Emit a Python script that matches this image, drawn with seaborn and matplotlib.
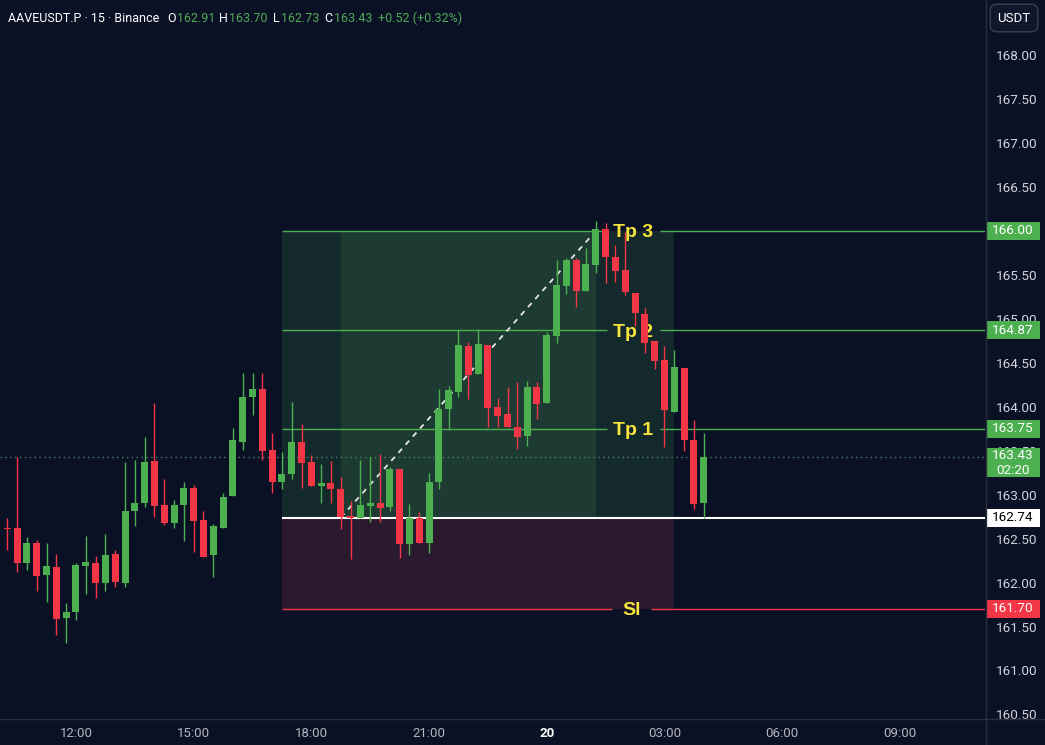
import matplotlib
matplotlib.use("Agg")
import numpy as np
import pandas as pd
import seaborn as sns
import matplotlib.pyplot as plt
from matplotlib.patches import Rectangle
from matplotlib.lines import Line2D
from matplotlib.transforms import blended_transform_factory

# ---------------- data ----------------
# candle times in hours relative to 12:00 (15-minute candles, 10:15 -> 04:00 next day)
hours = list(np.arange(72) * 0.25 - 1.75)

opens = [162.62, 162.62, 162.22, 162.45, 162.09, 162.18, 161.60, 161.67, 162.19, 162.22,
         161.99, 162.33, 162.00, 162.81, 162.90, 163.38, 162.88, 162.68, 162.88, 163.08,
         162.71, 162.31, 162.62, 162.98, 163.60, 164.11, 164.20, 163.51, 163.14, 163.23,
         163.60, 163.37, 163.10, 163.13, 163.06, 162.75, 162.73, 162.87, 162.90, 162.86,
         163.29, 162.44, 162.73, 162.45, 163.14, 163.98, 164.17, 164.69, 164.37, 164.70,
         164.00, 163.92, 163.77, 163.67, 164.23, 164.04, 164.81, 165.37, 165.67, 165.32,
         165.61, 166.02, 165.70, 165.56, 165.30, 165.06, 164.75, 164.53, 163.94, 164.44,
         163.62, 162.91]
closes = [162.61, 162.22, 162.45, 162.08, 162.19, 161.59, 161.66, 162.20, 162.23, 162.00,
          162.31, 162.01, 162.81, 162.91, 163.37, 162.87, 162.68, 162.88, 163.08, 162.70,
          162.29, 162.64, 162.97, 163.62, 164.11, 164.20, 163.50, 163.15, 163.24, 163.60,
          163.36, 163.10, 163.13, 163.06, 162.75, 162.74, 162.88, 162.90, 162.85, 163.29,
          162.44, 162.73, 162.45, 163.14, 163.98, 164.19, 164.70, 164.36, 164.71, 163.99,
          163.90, 163.77, 163.66, 164.23, 164.03, 164.82, 165.39, 165.67, 165.32, 165.63,
          166.02, 165.70, 165.55, 165.31, 165.07, 164.73, 164.52, 163.96, 164.45, 163.62,
          162.89, 163.43]
highs = [162.73, 163.43, 162.52, 162.48, 162.45, 162.33, 161.77, 162.22, 162.53, 162.30,
         162.55, 162.37, 163.37, 163.39, 163.66, 164.04, 163.18, 162.94, 163.14, 163.11,
         162.81, 162.67, 163.02, 163.76, 164.39, 164.39, 164.39, 163.70, 163.48, 164.05,
         163.80, 163.45, 163.35, 163.38, 163.20, 162.93, 163.39, 163.43, 163.46, 163.32,
         163.29, 162.89, 162.80, 163.25, 164.20, 164.24, 164.87, 164.74, 164.89, 164.70,
         164.10, 164.23, 164.28, 164.29, 164.28, 164.85, 165.67, 165.69, 165.69, 165.81,
         166.11, 166.09, 165.84, 165.99, 165.30, 165.12, 164.75, 164.69, 164.65, 164.44,
         163.85, 163.70]
lows = [162.37, 162.12, 162.14, 161.90, 161.78, 161.40, 161.31, 161.57, 161.87, 161.83,
        161.90, 161.95, 161.95, 162.64, 162.86, 162.75, 162.65, 162.62, 162.47, 162.35,
        162.29, 162.06, 162.62, 162.98, 163.51, 163.91, 163.39, 163.02, 163.06, 163.18,
        163.08, 163.10, 162.91, 162.91, 162.61, 162.27, 162.73, 162.69, 162.69, 162.82,
        162.28, 162.31, 162.45, 162.34, 163.06, 163.74, 164.11, 164.09, 164.37, 163.77,
        163.77, 163.77, 163.52, 163.55, 163.86, 164.04, 164.73, 165.28, 165.13, 165.32,
        165.52, 165.41, 165.42, 165.27, 164.92, 164.61, 164.43, 163.54, 163.94, 163.50,
        162.84, 162.73]

time_ticks = [0, 3, 6, 9, 12, 15, 18, 21]
time_labels = ["12:00", "15:00", "18:00", "21:00", "20", "03:00", "06:00", "09:00"]
# 166.00 is hidden behind its price tag in the reference, so it is not listed
price_ticks = [160.5, 161.0, 161.5, 162.0, 162.5, 163.0, 163.5, 164.0, 164.5,
               165.0, 165.5, 166.5, 167.0, 167.5, 168.0]

tp_levels = [166.00, 164.87, 163.75]
tp_names = ["Tp 3", "Tp 2", "Tp 1"]
entry_price = 162.74
stop_price = 161.70
last_price = 163.43
countdown = "02:20"
box_start, box_end = 5.25, 15.25          # position tool time span (hours)
trade_start, trade_end = 6.75, 13.25      # entry -> target hit

header_parts = [("AAVEUSDT.P · 15 · Binance", "w", 8), ("O", "w", 167), ("162.91", "g", 177),
                ("H", "w", 219), ("163.70", "g", 229), ("L", "w", 273), ("162.73", "g", 281),
                ("C", "w", 324), ("163.43", "g", 334), ("+0.52 (+0.32%)", "g", 378)]

# ---------------- style ----------------
BG = "#0b1125"
GREEN = "#4caf50"
HDR_GREEN = "#4fa957"
RED = "#f23645"
YELLOW = "#f7e43c"
TXT = "#d1d4dc"
SEP = "#2a2f3e"

sns.set_theme(style="dark", rc={"axes.facecolor": BG, "figure.facecolor": BG,
                                "savefig.facecolor": BG})
plt.rcParams["font.family"] = ["Roboto", "DejaVu Sans"]

W, H = 1045, 745
fig = plt.figure(figsize=(W / 100, H / 100), dpi=100)
ax = fig.add_axes([0, 26 / H, 985 / W, 719 / H])
ax.set_facecolor(BG)

XMIN, XMAX = -1.937, 23.171
ax.set_xlim(XMIN, XMAX)
ax.set_ylim(160.448, 168.628)

df = pd.DataFrame({"t": hours, "open": opens, "high": highs, "low": lows, "close": closes})
df["up"] = df["close"] >= df["open"]
cols = np.where(df["up"], GREEN, RED)

# position tool
ax.add_patch(Rectangle((box_start, entry_price), box_end - box_start, tp_levels[0] - entry_price,
                       fc="#13292c", ec="none", zorder=1))
ax.add_patch(Rectangle((trade_start, entry_price), trade_end - trade_start, tp_levels[0] - entry_price,
                       fc="#1d3b32", ec="none", zorder=1.1))
ax.add_patch(Rectangle((box_start, stop_price), box_end - box_start, entry_price - stop_price,
                       fc="#2b1a2f", ec="none", zorder=1))

# level lines with labels
lab_font = ["Liberation Sans", "DejaVu Sans"]
for lvl, name in zip(tp_levels, tp_names):
    ax.hlines(lvl, box_start, 13.53, color=GREEN, lw=1, zorder=2)
    ax.hlines(lvl, 14.89, XMAX, color=GREEN, lw=1, zorder=2)
    ax.text(13.69, lvl, name, ha="left", va="center_baseline", fontsize=14, fontweight="bold",
            color=YELLOW, family=lab_font, zorder=3)
ax.hlines(stop_price, box_start, 13.66, color=RED, lw=1, zorder=2)
ax.hlines(stop_price, 14.66, XMAX, color=RED, lw=1, zorder=2)
ax.text(13.94, stop_price, "Sl", ha="left", va="center_baseline", fontsize=14, fontweight="bold",
        color=YELLOW, family=lab_font, zorder=3)
ax.hlines(entry_price, box_start, XMAX, color="white", lw=1.5, zorder=2)

# current price dotted line
ax.axhline(last_price, color="#4a8566", lw=1, ls=(0, (1, 2.5)), zorder=2)

# dashed trade line
ax.plot([trade_start, trade_end], [entry_price, tp_levels[0]], color="#e6e6e6", lw=1.3,
        ls=(0, (3, 3)), zorder=3)

# candles
ax.vlines(df["t"], df["low"], df["high"], colors=cols, lw=1.0, zorder=4)
body_h = np.maximum((df["close"] - df["open"]).abs(), 0.012)
ax.bar(df["t"], body_h, bottom=np.minimum(df["open"], df["close"]), width=0.178,
       color=cols, linewidth=0, zorder=5)

# axes
ax.set_xticks(time_ticks)
ax.set_xticklabels(time_labels)
ax.tick_params(axis="x", length=0, pad=6, labelsize=9.5, labelcolor="#b2b5be")
lab = ax.get_xticklabels()[4]
lab.set_fontweight("bold")
lab.set_color("white")
ax.yaxis.tick_right()
ax.set_yticks(price_ticks)
ax.set_yticklabels([f"{p:.2f}" for p in price_ticks])
ax.tick_params(axis="y", length=0, pad=7.5, labelsize=9.7, labelcolor=TXT)
for s in ax.spines.values():
    s.set_visible(False)
ax.grid(False)

# price tags on the scale
trans = blended_transform_factory(ax.transAxes, ax.transData)
PPX = (168.628 - 160.448) / 719.0


def tag(center, h_px, fc):
    h = h_px * PPX
    ax.add_patch(Rectangle((986 / 985, center - h / 2), 54 / 985, h, transform=trans,
                           fc=fc, ec="none", clip_on=False, zorder=6))


def tag_text(y, s, color):
    ax.text(1013 / 985, y, s, transform=trans, ha="center", va="center", color=color,
            fontsize=9.7, clip_on=False, zorder=7)


for lvl in tp_levels:
    tag(lvl, 18, GREEN)
    tag_text(lvl, f"{lvl:.2f}", "white")
tag(last_price - 6 * PPX, 29, GREEN)
tag_text(last_price + 1 * PPX, f"{last_price:.2f}", "white")
tag_text(last_price - 14 * PPX, countdown, "white")
tag(entry_price, 18, "white")
tag_text(entry_price, f"{entry_price:.2f}", "black")
tag(stop_price, 18, RED)
tag_text(stop_price, f"{stop_price:.2f}", "white")

# separators
fig.add_artist(Line2D([0, 1], [26 / H, 26 / H], transform=fig.transFigure, color=SEP, lw=1))
fig.add_artist(Line2D([985.5 / W, 985.5 / W], [0, 1], transform=fig.transFigure, color=SEP, lw=1))

# currency box
fig.text(1014 / W, 1 - 18 / H, "USDT", ha="center", va="center", color="white", fontsize=9.5,
         bbox=dict(boxstyle="round,pad=0.55,rounding_size=0.5", fc="#10172b", ec="#3a3f4d", lw=1))

# header
for s, c, xpx in header_parts:
    fig.text(xpx / W, 1 - 18 / H, s, ha="left", va="center", fontsize=9.0,
             color=("white" if c == "w" else HDR_GREEN))

fig.savefig("out.png", dpi=100, facecolor=BG)
